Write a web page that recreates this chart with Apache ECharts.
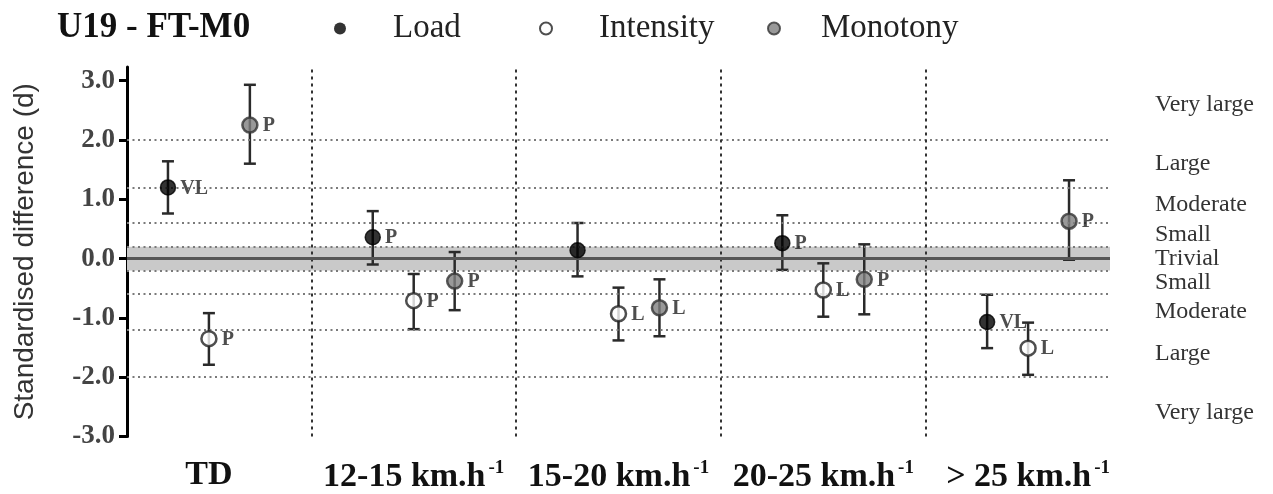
<!DOCTYPE html>
<html>
<head>
<meta charset="utf-8">
<script src="https://cdn.jsdelivr.net/npm/echarts@6/dist/echarts.min.js"></script>
<style>
html,body{margin:0;padding:0;background:#fff;}
#chart{width:1273px;height:494px;}
</style>
</head>
<body>
<div id="chart"></div>
<script>
// ---- data ----
var groups = ['TD', '12-15 km.h', '15-20 km.h', '20-25 km.h', '> 25 km.h'];
var groupSup = ['', '-1', '-1', '-1', '-1'];

var loadMean = [1.20, 0.36, 0.14, 0.26, -1.07];
var loadLow  = [0.76, -0.10, -0.30, -0.19, -1.51];
var loadHigh = [1.64, 0.80, 0.60, 0.73, -0.61];
var loadTag  = ['VL', 'P', '', 'P', 'VL'];

var intMean = [-1.35, -0.71, -0.93, -0.53, -1.51];
var intLow  = [-1.79, -1.19, -1.38, -0.98, -1.96];
var intHigh = [-0.92, -0.26, -0.49, -0.08, -1.08];
var intTag  = ['P', 'P', 'L', 'L', 'L'];

var monMean = [2.25, -0.38, -0.83, -0.35, 0.63];
var monLow  = [1.60, -0.87, -1.31, -0.94, -0.02];
var monHigh = [2.93, 0.11, -0.35, 0.24, 1.32];
var monTag  = ['P', 'P', 'L', 'P', 'P'];

var yTicks = [-3, -2, -1, 0, 1, 2, 3];
var thresholds = [-2.0, -1.2, -0.6, -0.2, 0.2, 0.6, 1.2, 2.0];
var trivialBand = [-0.2, 0.2];
var magLabels = ['Very large', 'Large', 'Moderate', 'Small', 'Trivial', 'Small', 'Moderate', 'Large', 'Very large'];
var magPos = [2.6, 1.6, 0.9, 0.4, 0, -0.4, -0.9, -1.6, -2.6];
var dividers = [0.5, 1.5, 2.5, 3.5];

// ---- build ----
var SERIF = 'Liberation Serif';
var offsets = { Load: -0.2, Intensity: 0, Monotony: 0.2 };

function pts(name, mean, tag) {
  return mean.map(function (m, i) { return { value: [i + offsets[name], m], tag: tag[i] }; });
}
function bars(name, low, high) {
  return low.map(function (l, i) { return [i + offsets[name], l, high[i]]; });
}
function errRender(params, api) {
  var x = api.value(0);
  var lo = api.coord([x, api.value(1)]);
  var hi = api.coord([x, api.value(2)]);
  var w = 6;
  var st = { stroke: '#2a2a2a', lineWidth: 2.5 };
  return {
    type: 'group',
    children: [
      { type: 'line', shape: { x1: lo[0], y1: lo[1], x2: hi[0], y2: hi[1] }, style: st },
      { type: 'line', shape: { x1: lo[0] - w, y1: lo[1], x2: lo[0] + w, y2: lo[1] }, style: st },
      { type: 'line', shape: { x1: hi[0] - w, y1: hi[1], x2: hi[0] + w, y2: hi[1] }, style: st }
    ]
  };
}
var ptLabel = {
  show: true, position: 'right', distance: 4, offset: [0, 1],
  formatter: function (p) { return p.data.tag; },
  fontFamily: SERIF, fontWeight: 'bold', fontSize: 20, color: '#222'
};
var styles = {
  Load: { color: '#000', borderColor: '#000', borderWidth: 1.5 },
  Intensity: { color: '#fff', borderColor: '#222', borderWidth: 2.5 },
  Monotony: { color: '#808080', borderColor: '#333', borderWidth: 2.5 }
};

var hLines = thresholds.map(function (t) { return { yAxis: t }; });
var vLines = dividers.map(function (d) { return { xAxis: d }; });

var series = [
  {
    name: 'refs', type: 'scatter', data: [], silent: true, z: 1,
    markArea: {
      silent: true, itemStyle: { color: '#c9c9c9' },
      data: [[{ yAxis: trivialBand[0] }, { yAxis: trivialBand[1] }]]
    },
    markLine: {
      silent: true, symbol: 'none', label: { show: false },
      data: hLines.map(function (h) {
        return Object.assign({ lineStyle: { color: '#7a7a7a', width: 2, type: [2, 3.5] } }, h);
      }).concat(vLines.map(function (v) {
        return Object.assign({ lineStyle: { color: '#333', width: 2, type: [3, 4] } }, v);
      })).concat([{ yAxis: 0, lineStyle: { color: '#555', width: 3, type: 'solid' } }])
    }
  }
];
['Load', 'Intensity', 'Monotony'].forEach(function (n) {
  var low = n === 'Load' ? loadLow : n === 'Intensity' ? intLow : monLow;
  var high = n === 'Load' ? loadHigh : n === 'Intensity' ? intHigh : monHigh;
  series.push({
    name: n + ' CI', type: 'custom', renderItem: errRender, data: bars(n, low, high), z: 3, silent: true,
    encode: { x: 0, y: [1, 2] }
  });
});
[['Load', loadMean, loadTag], ['Intensity', intMean, intTag], ['Monotony', monMean, monTag]].forEach(function (s) {
  series.push({
    name: s[0], type: 'scatter', symbol: 'circle', symbolSize: 15, z: 5,
    itemStyle: styles[s[0]], label: ptLabel, data: pts(s[0], s[1], s[2])
  });
});

var legendItems = [
  { name: 'Load', left: 329, pad: 42, itemStyle: { color: '#000', borderColor: '#000', borderWidth: 0 } },
  { name: 'Intensity', left: 534, pad: 42, itemStyle: { color: '#fff', borderColor: '#222', borderWidth: 2 } },
  { name: 'Monotony', left: 762, pad: 36, itemStyle: { color: '#808080', borderColor: '#333', borderWidth: 2 } }
];
var legends = legendItems.map(function (it) {
  return {
    left: it.left, top: 7, itemWidth: 12, itemHeight: 12,
    data: [{ name: it.name, icon: 'circle', itemStyle: it.itemStyle }],
    textStyle: { fontFamily: SERIF, fontSize: 33, color: '#222', padding: [0, 0, 0, it.pad] }
  };
});

var chart = echarts.init(document.getElementById('chart'), null, { renderer: 'canvas' });
chart.setOption({
  animation: false,
  backgroundColor: '#fff',
  title: {
    text: 'U19 - FT-M0', left: 52, top: 5,
    textStyle: { fontFamily: SERIF, fontWeight: 'bold', fontSize: 35, color: '#111' }
  },
  legend: legends,
  grid: { left: 127, right: 163, top: 67, bottom: 57 },
  xAxis: {
    type: 'value', min: -0.4, max: 4.4,
    axisLine: { show: false }, axisTick: { show: false }, splitLine: { show: false },
    axisLabel: {
      customValues: [0, 1, 2, 3, 4], margin: 22,
      formatter: function (v) {
        var i = Math.round(v);
        return groupSup[i] ? '{b|' + groups[i] + '}{s|' + groupSup[i] + '}' : '{b|' + groups[i] + '}';
      },
      rich: {
        b: { fontFamily: SERIF, fontWeight: 'bold', fontSize: 34, color: '#111' },
        s: { fontFamily: SERIF, fontWeight: 'bold', fontSize: 19, color: '#111', verticalAlign: 'top', padding: [0, 0, 18, 3] }
      }
    }
  },
  yAxis: [
    {
      type: 'value', min: -3, max: 3.23,
      name: 'Standardised difference (d)', nameLocation: 'middle', nameRotate: 90, nameGap: 88,
      nameTextStyle: { fontFamily: 'Liberation Sans', fontSize: 28, color: '#333' },
      axisLine: { show: true, onZero: false, lineStyle: { color: '#000', width: 3 } },
      axisTick: { show: true, customValues: yTicks, length: 8, lineStyle: { color: '#000', width: 3 } },
      axisLabel: {
        customValues: yTicks, margin: 12,
        formatter: function (v) { return v.toFixed(1); },
        fontFamily: SERIF, fontWeight: 'bold', fontSize: 27, color: '#444'
      },
      splitLine: { show: false }
    },
    {
      type: 'value', min: -3, max: 3.23, position: 'right',
      axisLine: { show: false }, axisTick: { show: false }, splitLine: { show: false },
      axisLabel: {
        customValues: magPos, margin: 45, align: 'left',
        formatter: function (v) {
          for (var i = 0; i < magPos.length; i++) { if (Math.abs(magPos[i] - v) < 1e-6) return magLabels[i]; }
          return '';
        },
        fontFamily: SERIF, fontSize: 24, color: '#333'
      }
    }
  ],
  series: series
});
</script>
</body>
</html>
